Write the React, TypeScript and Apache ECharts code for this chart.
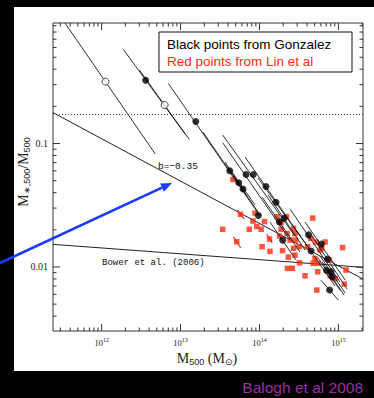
import React, { useEffect, useRef } from "react";
import * as echarts from "echarts";

// Axis ranges (M500 in solar masses, stellar fraction)
const X_MIN = 2.42e11;
const X_MAX = 2.05e15;
const Y_MIN = 0.00303;
const Y_MAX = 0.947;

const xDecades = [1e11, 1e12, 1e13, 1e14, 1e15];
const yDecades = [0.001, 0.01, 0.1];
const minorMultipliers = [2, 3, 4, 5, 6, 7, 8, 9];

// Gonzalez et al. (black filled)
const gonzalezMass = [3.61e12, 1.56e13, 4.2e13, 5.46e13, 6.19e13, 6.76e13, 8.36e13, 1.21e14, 9.68e13, 1.62e14, 1.78e14, 2.05e14, 1.97e14, 4.19e14, 4.51e14, 6.09e14, 7.29e14, 7.08e14, 8.08e14, 8.32e14, 7.73e14];
const gonzalezFrac = [0.325, 0.151, 0.0602, 0.0481, 0.0428, 0.0561, 0.0561, 0.0449, 0.0261, 0.0334, 0.0232, 0.0248, 0.0165, 0.0182, 0.01346, 0.01535, 0.01159, 0.00937, 0.00914, 0.00834, 0.0065];
// Gonzalez open circles
const openMass = [1.12e12, 6.29e12];
const openFrac = [0.317, 0.205];

// Correlated-error segments (start / end)
const segMass1 = [3.43e11, 1.88e12, 3.01e12, 6.98e12, 1.92e13, 3.66e13, 4.49e13, 3.42e13, 3.42e13, 6.56e13, 9.6e13, 1.08e14, 1.29e14, 1.36e14, 2.44e14, 2.91e14, 3.78e14, 4.63e14, 5.52e14, 5.86e14, 6.21e14, 5.98e14];
const segFrac1 = [0.947, 0.58, 0.394, 0.3075, 0.124, 0.0708, 0.0587, 0.1015, 0.1172, 0.0778, 0.0525, 0.03684, 0.03826, 0.02312, 0.02943, 0.0199, 0.02312, 0.0178, 0.0118, 0.01225, 0.01096, 0.00783];
const segMass2 = [4.79e12, 1.14e13, 1.29e13, 1.02e14, 9.6e13, 6.95e13, 8.79e13, 2.44e14, 2.82e14, 4.38e14, 3.27e14, 3.27e14, 3.78e14, 2.91e14, 1.05e15, 9.08e14, 1.22e15, 1.29e15, 1.05e15, 1.22e15, 1.18e15, 1.0e15];
const segFrac2 = [0.0822, 0.1194, 0.108, 0.02585, 0.02786, 0.03755, 0.03178, 0.01652, 0.0178, 0.01371, 0.0178, 0.01321, 0.01371, 0.01138, 0.00755, 0.007, 0.00783, 0.00662, 0.0065, 0.00614, 0.00592, 0.0054];

// Lin et al. (red squares)
const linMass = [3.42e13, 5.75e13, 5.15e13, 7.43e13, 8.28e13, 9.23e13, 1.05e14, 1.16e14, 1.08e14, 1.34e14, 1.36e14, 4.62e13, 8.79e13, 1.67e14, 2.2e14, 1.88e14, 1.88e14, 2.24e14, 2.7e14, 2.82e14, 2.44e14, 2.87e14, 3.18e14, 2.7e14, 1.96e14, 2.32e14, 2.82e14, 4.73e14, 4.47e14, 5.21e14, 6.78e14, 5.86e14, 5.06e14, 4.77e14, 3.22e14, 2.26e14, 2.61e14, 3.78e14, 5.32e14, 1.13e15, 1.25e15, 1.19e15, 9.08e14, 7.85e14, 7.69e14, 5.48e14, 6.15e14, 1.8e14, 4.07e14, 5.52e14];
const linFrac = [0.0202, 0.0267, 0.016, 0.0202, 0.02355, 0.02126, 0.0202, 0.02333, 0.01459, 0.01683, 0.01338, 0.0511, 0.02735, 0.02552, 0.0256, 0.0229, 0.0202, 0.01866, 0.02055, 0.01866, 0.01652, 0.01652, 0.01459, 0.01416, 0.01358, 0.01202, 0.01248, 0.0249, 0.01706, 0.01592, 0.01592, 0.01371, 0.01169, 0.0107, 0.01081, 0.00975, 0.00975, 0.00849, 0.0065, 0.01436, 0.00944, 0.00727, 0.00805, 0.00851, 0.01138, 0.00914, 0.01416, 0.0178, 0.01462, 0.0107];
const linErrMass1 = [5.24e13, 4.67e13, 1.23e14];
const linErrFrac1 = [0.0289, 0.01758, 0.01849];
const linErrMass2 = [6.43e13, 5.78e13, 1.45e14];
const linErrFrac2 = [0.02443, 0.01432, 0.01563];

// Reference lines
const baryonFrac = 0.172;
const slopeMass = [2.42e11, 2.05e15];
const slopeFrac = [0.178, 0.00798];
const bowerMass = [2.42e11, 2.05e15];
const bowerFrac = [0.01525, 0.00993];

const SERIF = "'Liberation Serif', 'DejaVu Serif', serif";
const SANS = "'Liberation Sans', Arial, sans-serif";
const MONO = "'Liberation Mono', 'DejaVu Sans Mono', monospace";

function buildTicks(decades: number[], lo: number, hi: number) {
  const out: number[][] = [];
  decades.forEach((d) => {
    if (d >= lo && d <= hi) out.push([d, 7]);
    minorMultipliers.forEach((m) => {
      const v = d * m;
      if (v >= lo && v <= hi) out.push([v, 3.5]);
    });
  });
  return out;
}

const tickStyle = { stroke: "#333", lineWidth: 1 };

export default function App() {
  const ref = useRef<HTMLDivElement>(null);
  useEffect(() => {
    const chart = echarts.init(ref.current!, null, { renderer: "svg" });
    const xTicks = buildTicks(xDecades, X_MIN, X_MAX).map((t) => [t[0], Y_MIN, t[1]]);
    const yTicks = buildTicks(yDecades, Y_MIN, Y_MAX).map((t) => [X_MIN, t[0], t[1]]);
    const segs = segMass1.map((m, i) => [m, segFrac1[i], segMass2[i], segFrac2[i]]);
    const redSegs = linErrMass1.map((m, i) => [m, linErrFrac1[i], linErrMass2[i], linErrFrac2[i]]);
    const segRender = (color: string, w: number) => (params: any, api: any) => {
      const p1 = api.coord([api.value(0), api.value(1)]);
      const p2 = api.coord([api.value(2), api.value(3)]);
      return { type: "line", shape: { x1: p1[0], y1: p1[1], x2: p2[0], y2: p2[1] }, style: { stroke: color, lineWidth: w } };
    };
    const option: any = {
      animation: false,
      backgroundColor: "transparent",
      grid: { left: 53, top: 23, width: 310, height: 308, show: true, borderColor: "#333", borderWidth: 1, backgroundColor: "transparent" },
      xAxis: {
        type: "log", logBase: 10, min: X_MIN, max: X_MAX,
        axisLine: { show: false }, axisTick: { show: false }, splitLine: { show: false }, minorTick: { show: false },
        axisLabel: {
          margin: 6,
          formatter: (v: number) => {
            const l = Math.log10(v); const e = Math.round(l);
            if (Math.abs(l - e) > 1e-6) return "";
            return `{b|10}{s|${e}}`;
          },
          rich: {
            b: { fontSize: 8.5, fontFamily: SERIF, color: "#222", lineHeight: 10, verticalAlign: "bottom" },
            s: { fontSize: 6, fontFamily: SERIF, color: "#222", lineHeight: 10, verticalAlign: "top" },
          },
        },
      },
      yAxis: {
        type: "log", logBase: 10, min: Y_MIN, max: Y_MAX,
        axisLine: { show: false }, axisTick: { show: false }, splitLine: { show: false }, minorTick: { show: false },
        axisLabel: {
          margin: 5, fontSize: 10, fontFamily: SERIF, color: "#222",
          formatter: (v: number) => {
            const l = Math.log10(v); const e = Math.round(l);
            if (Math.abs(l - e) > 1e-6) return "";
            return Math.pow(10, e).toFixed(-e);
          },
        },
      },
      series: [
        {
          type: "custom", name: "xticks", data: xTicks, encode: { x: 0, y: 1 }, z: 1, silent: true,
          renderItem: (params: any, api: any) => {
            const cs = params.coordSys;
            const px = api.coord([api.value(0), Y_MIN])[0];
            const len = api.value(2);
            return { type: "group", children: [
              { type: "line", shape: { x1: px, y1: cs.y + cs.height, x2: px, y2: cs.y + cs.height - len }, style: tickStyle },
              { type: "line", shape: { x1: px, y1: cs.y, x2: px, y2: cs.y + len }, style: tickStyle },
            ] };
          },
        },
        {
          type: "custom", name: "yticks", data: yTicks, encode: { x: 0, y: 1 }, z: 1, silent: true,
          renderItem: (params: any, api: any) => {
            const cs = params.coordSys;
            const py = api.coord([X_MIN, api.value(1)])[1];
            const len = api.value(2);
            return { type: "group", children: [
              { type: "line", shape: { x1: cs.x, y1: py, x2: cs.x + len, y2: py }, style: tickStyle },
              { type: "line", shape: { x1: cs.x + cs.width, y1: py, x2: cs.x + cs.width - len, y2: py }, style: tickStyle },
            ] };
          },
        },
        {
          type: "line", name: "fb", data: [[X_MIN, baryonFrac], [X_MAX, baryonFrac]], symbol: "none",
          lineStyle: { color: "#444", width: 1, type: [1, 2] }, z: 2, silent: true,
        },
        {
          type: "line", name: "b", data: slopeMass.map((m, i) => [m, slopeFrac[i]]), symbol: "none",
          lineStyle: { color: "#222", width: 1 }, z: 2, silent: true,
        },
        {
          type: "line", name: "bower", data: bowerMass.map((m, i) => [m, bowerFrac[i]]), symbol: "none",
          lineStyle: { color: "#222", width: 1 }, z: 2, silent: true,
        },
        {
          type: "scatter", name: "Lin", data: linMass.map((m, i) => [m, linFrac[i]]), symbol: "rect", symbolSize: 5.5,
          itemStyle: { color: "#ff2a14" }, z: 3, silent: true,
        },
        {
          type: "custom", name: "linerr", data: redSegs, encode: { x: [0, 2], y: [1, 3] }, z: 3, silent: true,
          renderItem: segRender("#ff2a14", 1.2),
        },
        {
          type: "custom", name: "segs", data: segs, encode: { x: [0, 2], y: [1, 3] }, z: 4, silent: true,
          renderItem: segRender("#1a1a1a", 0.9),
        },
        {
          type: "scatter", name: "Gonzalez", data: gonzalezMass.map((m, i) => [m, gonzalezFrac[i]]), symbol: "circle", symbolSize: 7,
          itemStyle: { color: "#000" }, z: 5, silent: true,
        },
        {
          type: "scatter", name: "GonzalezOpen", data: openMass.map((m, i) => [m, openFrac[i]]), symbol: "circle", symbolSize: 7,
          itemStyle: { color: "#fff", borderColor: "#222", borderWidth: 1 }, z: 5, silent: true,
        },
      ],
      graphic: [
        { type: "rect", shape: { x: 159, y: 32, width: 193, height: 40 }, style: { fill: "#fff", stroke: "#111", lineWidth: 1 }, z: 10 },
        { type: "text", x: 167, y: 44, z: 11, style: { text: "Black points from Gonzalez", fill: "#000", fontSize: 13.5, fontFamily: SANS, verticalAlign: "middle" } },
        { type: "text", x: 167, y: 61, z: 11, style: { text: "Red points from Lin et al", fill: "#ff2a14", fontSize: 13.5, fontFamily: SANS, verticalAlign: "middle" } },
        { type: "text", x: 158, y: 166, z: 11, style: { text: "b=\u22120.35", fill: "#111", fontSize: 9.5, fontFamily: MONO, verticalAlign: "middle" } },
        { type: "text", x: 102, y: 263, z: 11, style: { text: "Bower et al. (2006)", fill: "#111", fontSize: 9, fontFamily: MONO, verticalAlign: "middle" } },
        {
          type: "text", x: 207, y: 359, z: 11,
          style: {
            text: "{m|M}{s|500}{m| (M}{o|\u2299}{m|)}", align: "center", verticalAlign: "middle",
            rich: {
              m: { fontSize: 14, fontFamily: SERIF, fill: "#222", verticalAlign: "top", lineHeight: 15 },
              s: { fontSize: 9, fontFamily: SANS, fill: "#222", verticalAlign: "bottom", lineHeight: 9, padding: [9, 0, 0, 0] },
              o: { fontSize: 9, fontFamily: "'DejaVu Sans', sans-serif", fill: "#222", verticalAlign: "bottom", lineHeight: 9, padding: [9, 0, 0, 0] },
            },
          },
        },
        {
          type: "text", x: 24, y: 172, z: 11, rotation: Math.PI / 2,
          style: {
            text: "{m|M}{s|\u2217,500}{m|/M}{s|500}", align: "center", verticalAlign: "middle",
            rich: {
              m: { fontSize: 14, fontFamily: SERIF, fill: "#222", verticalAlign: "top", lineHeight: 15 },
              s: { fontSize: 9, fontFamily: SANS, fill: "#222", verticalAlign: "bottom", lineHeight: 9, padding: [9, 0, 0, 0] },
            },
          },
        },
        { type: "text", x: 363, y: 387, z: 11, style: { text: "Balogh et al 2008", fill: "#9b30a0", fontSize: 15.5, fontFamily: SANS, align: "right", verticalAlign: "middle" } },
        { type: "line", shape: { x1: 0, y1: 263, x2: 162, y2: 187.6 }, style: { stroke: "#1a3cff", lineWidth: 2.5 }, z: 12 },
        { type: "polygon", shape: { points: [[172, 183], [163.9, 191.7], [160.1, 183.6]] }, style: { fill: "#1a3cff" }, z: 12 },
      ],
    };
    chart.setOption(option);
    return () => chart.dispose();
  }, []);
  return (
    <div style={{ position: "fixed", left: 0, top: 0, width: 374, height: 398, background: "#000", overflow: "hidden" }}>
      <div style={{ position: "absolute", left: 14, top: 7, width: 360, height: 364, background: "#fff" }} />
      <div ref={ref} style={{ position: "absolute", left: 0, top: 0, width: 374, height: 398 }} />
    </div>
  );
}
